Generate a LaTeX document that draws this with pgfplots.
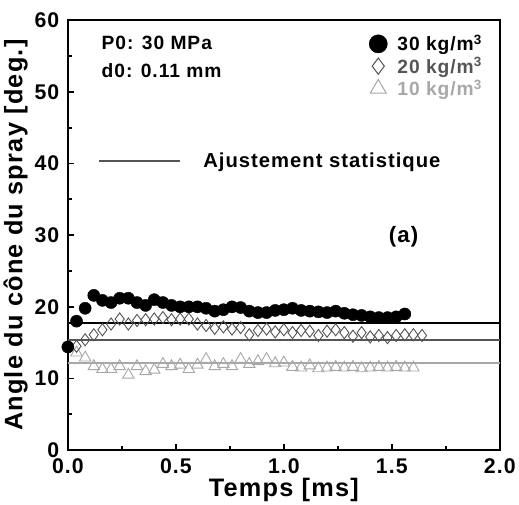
\documentclass[border=0pt]{standalone}
\usepackage{pgfplots}
\pgfplotsset{compat=1.18}
\usepackage{fontspec}
\setmainfont{Liberation Sans}
\newfontfamily\spaced[LetterSpace=5]{Liberation Sans}
\definecolor{dgray}{HTML}{555555}
\definecolor{lgray}{HTML}{A8A8A8}
\begin{document}
\begin{tikzpicture}
\begin{axis}[
  scale only axis, width=427pt, height=425pt,
  xmin=0, xmax=2, ymin=0, ymax=60, clip=false,
  xtick={0,0.5,1,1.5,2}, ytick={0,10,20,30,40,50,60},
  minor x tick num=1, minor y tick num=1,
  xticklabels={0.0,0.5,1.0,1.5,2.0},
  tick align=inside, xtick pos=bottom, ytick pos=left,
  major tick length=6pt, minor tick length=4pt,
  every tick/.style={black, line width=1.8pt},
  axis line style={line width=2pt},
  /pgf/number format/assume math mode=true,
  ticklabel style={font=\spaced\fontsize{21}{23}\selectfont\bfseries},
  xticklabel style={yshift=-5pt}, yticklabel style={xshift=-5pt},
  xlabel={Temps [ms]}, ylabel={Angle du cône du spray [deg.]},
  label style={font=\spaced\fontsize{25}{27}\selectfont\bfseries},
  xlabel style={yshift=3pt}, ylabel style={yshift=0pt},
  legend style={at={(axis cs:1.38,58.5)}, anchor=north west, draw=none, fill=none,
    font=\spaced\fontsize{19}{21}\selectfont\bfseries, row sep=1pt},
  legend cell align=left,
]
\path (rel axis cs:0,1) ++(0,20pt) coordinate (bbtop);
\path (bbtop) -- (bbtop);
\addplot[black, line width=2pt, forget plot] coordinates {(0,17.8) (2,17.8)};
\addplot[dgray, line width=2pt, forget plot] coordinates {(0,15.4) (2,15.4)};
\addplot[lgray, line width=2pt, forget plot] coordinates {(0,12.2) (2,12.2)};
\addplot[only marks, mark=triangle, mark size=6.5pt, lgray, mark options={line width=0.9pt}, forget plot] coordinates {
(0.04,13.6) (0.08,12.9) (0.12,11.7) (0.16,11.3) (0.20,11.3) (0.24,11.7) (0.28,10.5) (0.32,11.7)
(0.36,11.0) (0.40,11.2) (0.44,12.0) (0.48,11.7) (0.52,11.9) (0.56,11.3) (0.60,11.9) (0.64,12.7)
(0.68,11.7) (0.72,12.0) (0.76,11.7) (0.80,12.7) (0.84,12.0) (0.88,12.4) (0.92,12.7) (0.96,12.1)
(1.00,12.2) (1.04,11.6) (1.08,11.5) (1.12,11.8) (1.16,11.4) (1.20,11.5) (1.24,11.6) (1.28,11.5)
(1.32,11.6) (1.36,11.4) (1.40,11.5) (1.44,11.6) (1.48,11.5) (1.52,11.6) (1.56,11.5) (1.60,11.5)};
\addplot[only marks, mark=diamond, mark size=6pt, dgray, mark options={line width=0.9pt}, forget plot] coordinates {
(0.04,14.5) (0.08,15.4) (0.12,16.1) (0.16,16.8) (0.20,17.6) (0.24,18.3) (0.28,17.6) (0.32,18.1)
(0.36,18.2) (0.40,18.3) (0.44,18.5) (0.48,18.2) (0.52,18.3) (0.56,18.3) (0.60,17.6) (0.64,17.4)
(0.68,17.0) (0.72,17.2) (0.76,16.9) (0.80,17.1) (0.84,16.1) (0.88,16.7) (0.92,16.9) (0.96,16.5)
(1.00,16.8) (1.04,16.4) (1.08,16.7) (1.12,16.6) (1.16,16.0) (1.20,16.6) (1.24,16.8) (1.28,16.4)
(1.32,15.9) (1.36,16.4) (1.40,15.8) (1.44,16.0) (1.48,15.7) (1.52,16.0) (1.56,16.1) (1.60,16.1)
(1.64,16.0)};
\addplot[only marks, mark=*, mark size=6pt, black, forget plot] coordinates {
(0.00,14.4) (0.04,18.0) (0.08,19.8) (0.12,21.6) (0.16,20.9) (0.20,20.6) (0.24,21.2) (0.28,21.2)
(0.32,20.6) (0.36,20.2) (0.40,21.0) (0.44,20.6) (0.48,20.2) (0.52,20.0) (0.56,20.0) (0.60,20.0)
(0.64,19.8) (0.68,19.4) (0.72,19.6) (0.76,20.0) (0.80,19.9) (0.84,19.4) (0.88,19.2) (0.92,19.2)
(0.96,19.5) (1.00,19.6) (1.04,19.8) (1.08,19.5) (1.12,19.4) (1.16,19.3) (1.20,19.2) (1.24,19.4)
(1.28,19.1) (1.32,18.9) (1.36,18.8) (1.40,18.6) (1.44,18.5) (1.48,18.5) (1.52,18.6) (1.56,19.0)};
\addlegendimage{only marks, mark=*, mark size=9pt, black}
\addlegendentry{\hspace*{8pt}30 kg/m\textsuperscript{3}}
\addlegendimage{only marks, mark=diamond, mark size=8pt, dgray, mark options={line width=1pt}}
\addlegendentry{\hspace*{8pt}\textcolor{dgray}{20 kg/m\textsuperscript{3}}}
\addlegendimage{only marks, mark=triangle, mark size=9pt, lgray, mark options={line width=1pt}}
\addlegendentry{\hspace*{8pt}\textcolor{lgray}{10 kg/m\textsuperscript{3}}}
\node[anchor=west, font=\spaced\fontsize{19}{21}\selectfont\bfseries] at (axis cs:0.14,56.9) {P0: 30 MPa};
\node[anchor=west, font=\spaced\fontsize{19}{21}\selectfont\bfseries] at (axis cs:0.14,53.0) {d0: 0.11 mm};
\node[font=\spaced\fontsize{22}{24}\selectfont\bfseries] at (axis cs:1.555,29.8) {(a)};
\end{axis}
\begin{axis}[
  scale only axis, width=427pt, height=425pt,
  xmin=0, xmax=2, ymin=0, ymax=60, hide axis,
  legend style={at={(axis cs:0.125,40.3)}, anchor=west, draw=none, fill=none,
    font=\spaced\fontsize{20}{22}\selectfont\bfseries},
  legend image code/.code={\draw[#1] (0pt,0pt) -- (80pt,0pt);},
]
\addlegendimage{dgray, line width=2pt}
\addlegendentry{\hspace*{20pt}Ajustement statistique}
\end{axis}
\end{tikzpicture}
\end{document}
